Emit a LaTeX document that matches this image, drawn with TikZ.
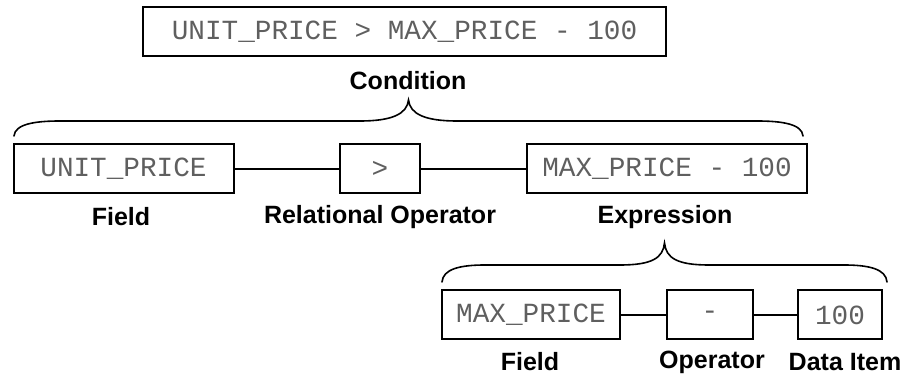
\documentclass[tikz,border=0pt]{standalone}
\usepackage{fontspec}
\setmainfont{Liberation Sans}
\newfontfamily\codefont{Liberation Mono}
\definecolor{codegray}{RGB}{95,95,95}
\tikzset{
  codebox/.style={draw=black, line width=2pt, inner sep=0pt, minimum height=49pt,
    font=\codefont\fontsize{27.7}{30}\selectfont, text=codegray},
  lbl/.style={inner sep=0pt, font=\bfseries\fontsize{25}{28}\selectfont, text=black},
  conn/.style={line width=1.3pt},
  bracepath/.style={line width=1.6pt, line cap=round}
}
\begin{document}
\begin{tikzpicture}[x=1pt,y=-1pt]
\useasboundingbox (0,0) rectangle (903,379);
% top
\node[codebox, minimum width=523pt] (top) at (404.5,31.5) {UNIT\_PRICE > MAX\_PRICE - 100};
\node[lbl] (cond) at (408,81) {Condition};
% brace 1
\draw[bracepath] (14,136) .. controls (15,124) and (35,121) .. (60,121) -- (360,121)
  .. controls (392,121) and (407,114) .. (408.5,100)
  .. controls (410,114) and (425,121) .. (457,121) -- (757,121)
  .. controls (782,121) and (802,124) .. (803,136);
% row 2
\node[codebox, minimum width=220pt] (unit) at (123.5,169) {UNIT\_PRICE};
\node[codebox, minimum width=80pt] (gt) at (380,169) {>};
\node[codebox, minimum width=280pt] (expr) at (667,169) {MAX\_PRICE - 100};
\draw[conn] (unit) -- (gt);
\draw[conn] (gt) -- (expr);
\node[lbl] (lfield) at (121,217) {Field};
\node[lbl] (lrel) at (380,217) {Relational Operator};
\node[lbl] (lexpr) at (665,217) {Expression};
% brace 2
\draw[bracepath] (442,282) .. controls (443,269) and (460,265) .. (485,265) -- (620,265)
  .. controls (652,265) and (663,258) .. (664.5,243)
  .. controls (666,258) and (677,265) .. (709,265) -- (844,265)
  .. controls (869,265) and (886,269) .. (887,282);
% row 3
\node[codebox, minimum width=178pt] (maxp) at (531,315) {MAX\_PRICE};
\node[codebox, minimum width=86pt] (minus) at (710,315) {-};
\node[codebox, minimum width=84pt] (hund) at (840,315) {100};
\draw[conn] (maxp) -- (minus);
\draw[conn] (minus) -- (hund);
\node[lbl] (lfield2) at (530,362) {Field};
\node[lbl] (lop) at (712,362) {Operator};
\node[lbl] (ldata) at (845,362) {Data Item};
\end{tikzpicture}
\end{document}
